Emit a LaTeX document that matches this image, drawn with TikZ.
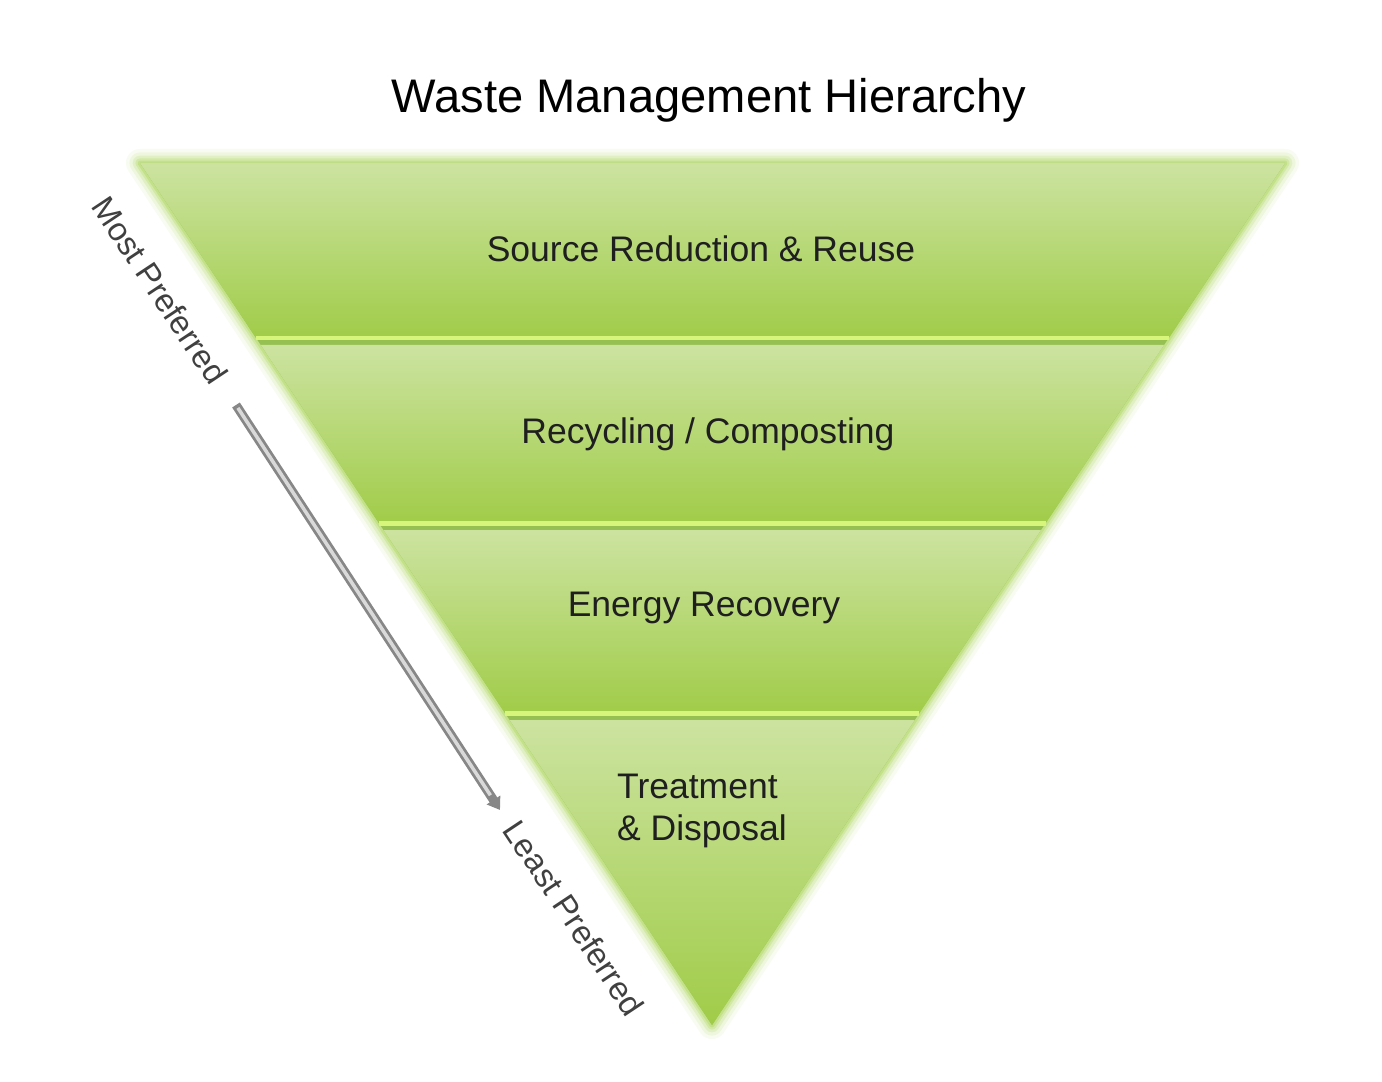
\documentclass[tikz,border=0pt]{standalone}
\usepackage{fontspec}
\setmainfont{Liberation Sans}
\usetikzlibrary{calc, arrows.meta}
\definecolor{bandtop}{RGB}{204,227,160}
\definecolor{bandbot}{RGB}{160,204,72}
\definecolor{bandlip}{RGB}{214,245,122}
\definecolor{bandgap}{RGB}{150,192,82}
\definecolor{glowgreen}{RGB}{165,210,80}
\definecolor{arrowgray}{RGB}{135,135,135}
\tikzset{
    band/.style={top color=bandtop, bottom color=bandbot},
    lip/.style={draw=bandlip, line width=1.4pt},
    glow/.style={draw=glowgreen, line join=round},
    tier/.style={font=\fontsize{10.1}{12}\selectfont, text=black!88, align=left},
    side/.style={font=\fontsize{9.3}{11}\selectfont, text=black!75, rotate=-56.4},
    prefarrow/.style={draw=arrowgray, line width=2.6pt, -{Triangle[width=4.4pt, length=3.4pt]}},
    prefshine/.style={draw=gray!30, line width=1pt, shorten >=5pt, shorten <=1pt},
}

\begin{document}
\begin{tikzpicture}[x=0.01cm, y=-0.01cm]
    \useasboundingbox (0,0) rectangle (1382,1082);
    \coordinate (tl) at (140,163);
    \coordinate (tr) at (1285,163);
    \coordinate (apex) at (712,1025);

    % soft glow round the triangle
    \foreach \w/\o in {8/0.08, 6/0.12, 4.2/0.18, 2.6/0.25, 1.4/0.35}
        \draw[glow, line width=\w pt, opacity=\o] (tl) -- (tr) -- (apex) -- cycle;
    \fill[bandgap] (tl) -- (tr) -- (apex) -- cycle;

    % the four tiers
    \foreach \ta/\tb in {0/0.2053, 0.2111/0.4200, 0.4258/0.6404, 0.6462/1}{
        \shade[band] ($(tl)!\ta!(apex)$) -- ($(tr)!\ta!(apex)$)
            -- ($(tr)!\tb!(apex)$) -- ($(tl)!\tb!(apex)$) -- cycle;
    }
    \foreach \tb in {0.2030, 0.4177, 0.6381}
        \draw[lip] ($(tl)!\tb!(apex)$) -- ($(tr)!\tb!(apex)$);

    \node[font=\fontsize{13.4}{16}\selectfont] (title) at (709,100) {Waste Management Hierarchy};
    \node[tier] (reduce) at (701,249) {Source Reduction \& Reuse};
    \node[tier] (recycle) at (708,434) {Recycling / Composting};
    \node[tier] (energy) at (704,608) {Energy Recovery};
    \node[tier] (dispose) at (702,811) {Treatment\\\& Disposal};

    \node[side] (most) at (160,290) {Most Preferred};
    \node[side] (least) at (574,918) {Least Preferred};

    \coordinate (arrow-top) at (236,405);
    \coordinate (arrow-tip) at (500,810);
    \draw[prefarrow] (arrow-top) -- (arrow-tip);
    \draw[prefshine] (arrow-top) -- (arrow-tip);
\end{tikzpicture}
\end{document}
